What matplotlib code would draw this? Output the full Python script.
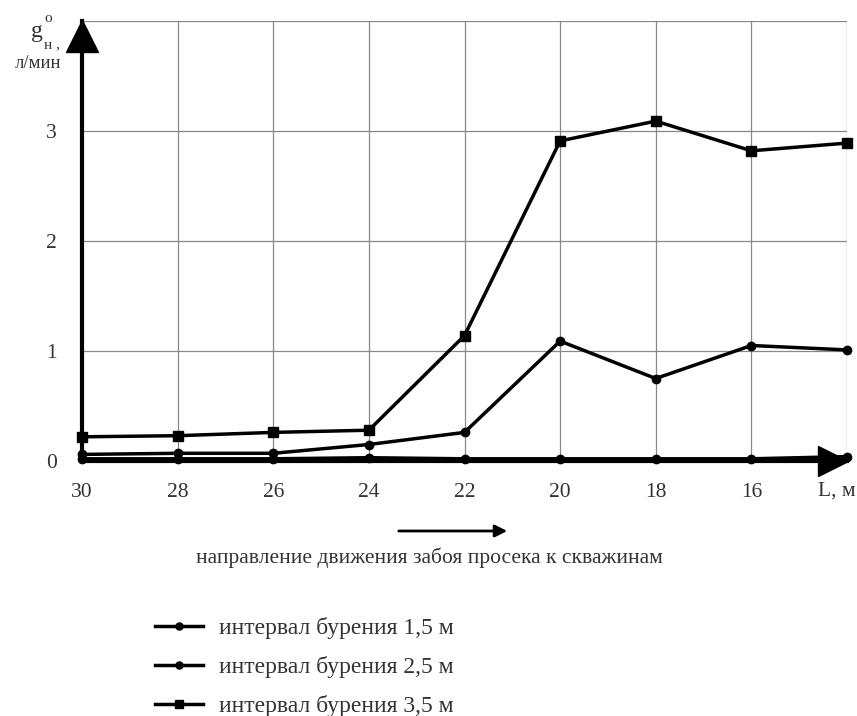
import matplotlib.pyplot as plt

plt.rcParams['font.family'] = ['Liberation Serif', 'DejaVu Serif']

# расстояние до скважин, м
L = [30, 28, 26, 24, 22, 20, 18, 16, 14]
x_labels = ['30', '28', '26', '24', '22', '20', '18', '16', '']
y_ticks = [0, 1, 2, 3, 4]
y_labels = ['0', '1', '2', '3', '']

# газовыделение, л/мин
q_15 = [0.02, 0.02, 0.02, 0.03, 0.02, 0.02, 0.02, 0.02, 0.04]
q_25 = [0.06, 0.07, 0.07, 0.15, 0.26, 1.09, 0.75, 1.05, 1.01]
q_35 = [0.22, 0.23, 0.26, 0.28, 1.14, 2.91, 3.09, 2.82, 2.89]

names = ['интервал бурения 1,5 м', 'интервал бурения 2,5 м', 'интервал бурения 3,5 м']

W, H = 857, 716
fig = plt.figure(figsize=(W / 100, H / 100), dpi=100)

def fx(px):
    return px / W

def fy(py):
    return 1 - py / H

ax = fig.add_axes([fx(82), fy(461), fx(847) - fx(82), fy(21) - fy(461)])

h1, = ax.plot(L, q_15, color='black', lw=2.5, marker='o', ms=6, clip_on=False, zorder=5)
h2, = ax.plot(L, q_25, color='black', lw=2.5, marker='o', ms=6, clip_on=False, zorder=5)
h3, = ax.plot(L, q_35, color='black', lw=2.5, marker='s', ms=7, clip_on=False, zorder=5)

ax.set_xlim(30, 14)
ax.set_ylim(0, 4)
ax.set_xticks(L)
ax.set_xticklabels(x_labels, fontsize=15.5, color='#333333')
ax.set_yticks(y_ticks)
ax.set_yticklabels(y_labels, fontsize=15.5, color='#333333')
ax.tick_params(length=0, pad=16)
ax.tick_params(axis='y', pad=18)
ax.grid(True, color='#888888', lw=0.9)

for s in ['top', 'right']:
    ax.spines[s].set_visible(False)
for s in ['left', 'bottom']:
    ax.spines[s].set_linewidth(3)
    ax.spines[s].set_zorder(4)

# стрелки на осях
ax.plot(0, 0.966, marker='^', ms=23, color='black', transform=ax.transAxes, clip_on=False, zorder=6)
ax.plot(0.982, 0, marker='>', ms=22, color='black', transform=ax.transAxes, clip_on=False, zorder=6)

fig.text(fx(837), fy(491), 'L, м', fontsize=15.5, color='#333333', ha='center', va='center')

# подпись оси Y
fig.text(fx(37), fy(32), 'g', fontsize=17, color='#333333', ha='center', va='center')
fig.text(fx(48), fy(18), 'о', fontsize=11, color='#333333', ha='center', va='center')
fig.text(fx(52), fy(45), 'н ,', fontsize=11, color='#333333', ha='center', va='center')
fig.text(fx(38), fy(64), 'л/мин', fontsize=13.5, color='#333333', ha='center', va='center')

# направление движения
ax.annotate('', xy=(fx(510), fy(531)), xytext=(fx(396), fy(531)), xycoords='figure fraction',
            textcoords='figure fraction', annotation_clip=False,
            arrowprops=dict(arrowstyle='-|>', color='black', lw=2, mutation_scale=18))
fig.text(fx(429), fy(558), 'направление движения забоя просека к скважинам',
         fontsize=15.5, color='#333333', ha='center', va='center')

fig.legend([h1, h2, h3], names, loc='upper left', bbox_to_anchor=(fx(155), fy(617)),
           frameon=False, fontsize=17, handlelength=2.05, labelspacing=0.72,
           handletextpad=0.65, borderpad=0, borderaxespad=0, markerscale=0.85,
           labelcolor='#333333')

fig.savefig('out.png', dpi=100)
